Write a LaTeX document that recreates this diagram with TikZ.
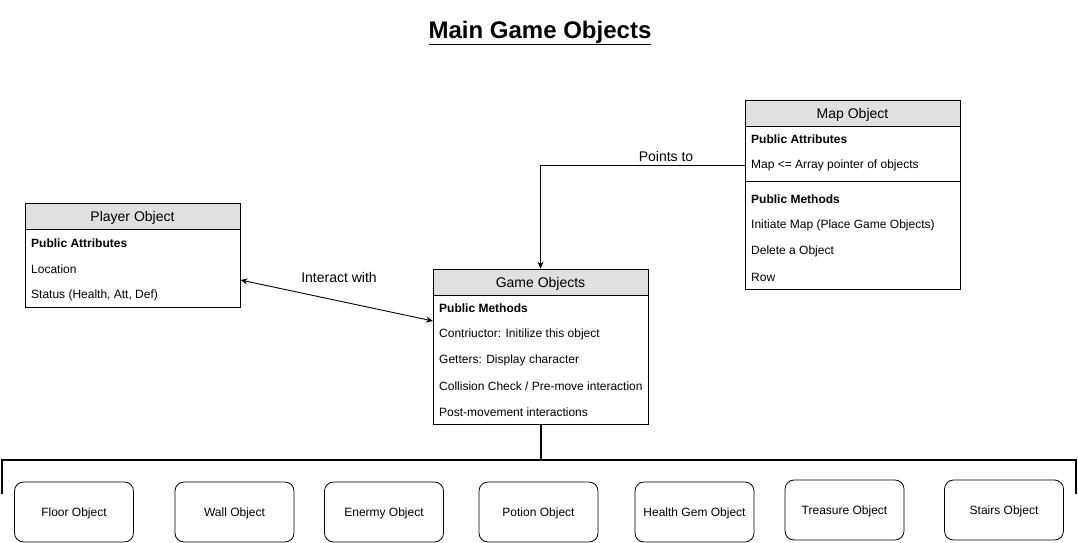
\documentclass[tikz,border=0pt]{standalone}
\usepackage{fontspec}
\setmainfont{Liberation Sans}
\usetikzlibrary{arrows.meta}
\definecolor{hdr}{HTML}{E0E0E0}
\begin{document}
\begin{tikzpicture}[x=1pt,y=-1pt,
  classbox/.style={draw=black, line width=0.8pt, inner sep=0pt, minimum width=215pt},
  header/.style={draw=black, line width=0.8pt, fill=hdr, inner sep=0pt, minimum width=215pt, minimum height=26pt, text depth=0pt, font=\fontsize{14}{16}\selectfont},
  attr/.style={anchor=west, inner sep=0pt, font=\fontsize{12}{14}\selectfont},
  battr/.style={attr, font=\fontsize{12}{14}\selectfont\bfseries},
  lbl/.style={inner sep=0pt, text depth=0pt, font=\fontsize{14}{16}\selectfont},
  leaf/.style={draw=black, line width=0.8pt, rounded corners=9pt, minimum width=119pt, minimum height=60pt, inner sep=0pt, text depth=0pt, font=\fontsize{12}{14}\selectfont},
  conn/.style={draw=black, line width=0.9pt},
  arr/.style={conn, -{Stealth[length=7pt,width=6pt]}},
  bus/.style={draw=black, line width=2pt}
]
\useasboundingbox (0,0) rectangle (1078,543);

% title
\node[inner sep=0pt, font=\fontsize{24}{28}\selectfont\bfseries] (title) at (540,33) {\underline{Main Game Objects}};

% Player object
\node[classbox, minimum height=103pt] (player) at (132.5,255.5) {};
\node[header] (playerh) at (132.5,216.5) {Player Object};
\node[battr] (p1) at (31,243) {Public Attributes};
\node[attr] (p2) at (31,269) {Location};
\node[attr] (p3) at (31,295) {Status (Health, Att, Def)};

% Game objects
\node[classbox, minimum height=155pt] (game) at (540.5,346.5) {};
\node[header] (gameh) at (540.5,282) {Game Objects};
\node[battr] (g1) at (439,308) {Public Methods};
\node[attr] (g2) at (439,334) {Contriuctor: Initilize this object};
\node[attr] (g3) at (439,360) {Getters: Display character};
\node[attr] (g4) at (439,386) {Collision Check / Pre-move interaction};
\node[attr] (g5) at (439,412) {Post-movement interactions};

% Map object
\node[classbox, minimum height=189pt] (map) at (852.5,194.5) {};
\node[header] (maph) at (852.5,113) {Map Object};
\node[battr] (m1) at (751,139) {Public Attributes};
\node[attr] (m2) at (751,165) {Map <= Array pointer of objects};
\coordinate (mdivl) at (745,181);
\coordinate (mdivr) at (960,181);
\draw[line width=0.8pt] (mdivl) -- (mdivr);
\node[battr] (m3) at (751,199) {Public Methods};
\node[attr] (m4) at (751,225) {Initiate Map (Place Game Objects)};
\node[attr] (m5) at (751,251) {Delete a Object};
\node[attr] (m6) at (751,277) {Row};

% Points to
\coordinate (mapout) at (map.west |- m2);
\draw[arr] (mapout) -| (gameh.north);
\node[lbl] (ptlbl) at (666,156) {Points to};

% Interact with
\coordinate (pin) at (240.5,280);
\coordinate (gin) at (433,321);
\draw[conn, {Stealth[length=7pt,width=6pt]}-{Stealth[length=7pt,width=6pt]}] (pin) -- (gin);
\node[lbl] (iwlbl) at (339,277) {Interact with};

% bus
\coordinate (busmid) at (game.south |- 0,460);
\coordinate (busl) at (2,460);
\coordinate (busr) at (1076,460);
\coordinate (busld) at (2,494);
\coordinate (busrd) at (1076,494);
\draw[bus] (game.south) -- (busmid);
\draw[bus] (busld) -- (busl) -- (busr) -- (busrd);

% leaves
\node[leaf] (floor) at (74,512) {Floor Object};
\node[leaf] (wall) at (234.5,512) {Wall Object};
\node[leaf] (enemy) at (384,512) {Enermy Object};
\node[leaf] (potion) at (538.5,512) {Potion Object};
\node[leaf] (gem) at (694.5,512) {Health Gem Object};
\node[leaf] (treasure) at (844.5,510) {Treasure Object};
\node[leaf] (stairs) at (1004,510) {Stairs Object};
\end{tikzpicture}
\end{document}
